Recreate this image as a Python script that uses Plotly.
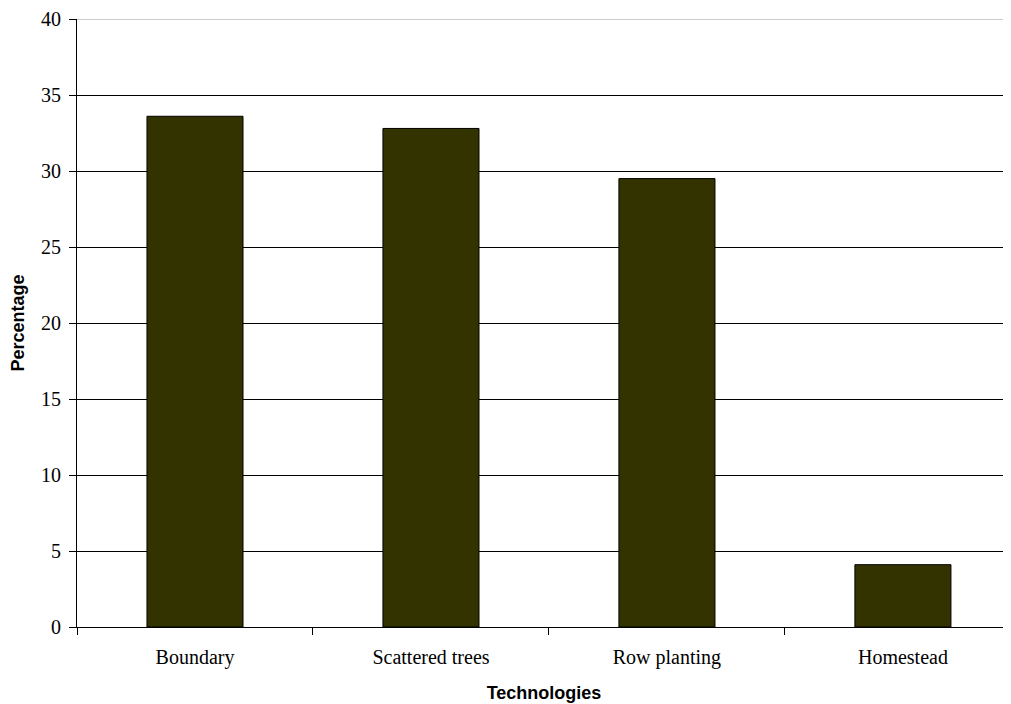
import plotly.graph_objects as go

categories = ["Boundary", "Scattered trees", "Row planting", "Homestead"]
values = [33.6, 32.8, 29.5, 4.1]
y_ticks = [0, 5, 10, 15, 20, 25, 30, 35, 40]

fig = go.Figure(go.Bar(
    x=categories, y=values,
    marker=dict(color="#333300", line=dict(color="black", width=1)),
))

fig.update_layout(
    width=1003, height=696,
    margin=dict(l=69, r=0, t=11, b=77),
    paper_bgcolor="white", plot_bgcolor="white",
    bargap=0.593,
    showlegend=False,
    font=dict(family="Liberation Serif", color="black", size=20),
)
fig.update_xaxes(
    automargin=False,
    range=[-0.5, 3.458],
    showline=True, linecolor="black", linewidth=1,
    ticks="outside", tickson="boundaries", ticklen=7, tickcolor="black",
    ticklabelstandoff=12,
    tickfont=dict(family="Liberation Serif", size=20),
    title=dict(text="<b>Technologies</b>", font=dict(family="Liberation Sans", size=18), standoff=18),
)
fig.update_yaxes(
    automargin=False,
    range=[0, 40], tickvals=y_ticks,
    showline=True, linecolor="black", linewidth=1,
    ticks="outside", ticklen=7, tickcolor="black",
    ticklabelstandoff=4,
    showgrid=True, gridcolor="black", gridwidth=1,
    zeroline=False,
    tickfont=dict(family="Liberation Serif", size=20),
    title=dict(text="<b>Percentage</b>", font=dict(family="Liberation Sans", size=18), standoff=11),
)
fig.add_shape(type="line", xref="paper", yref="y", x0=0, x1=1, y0=40, y1=40,
              line=dict(color="#999999", width=1), layer="above")

fig.write_html("out.html")
